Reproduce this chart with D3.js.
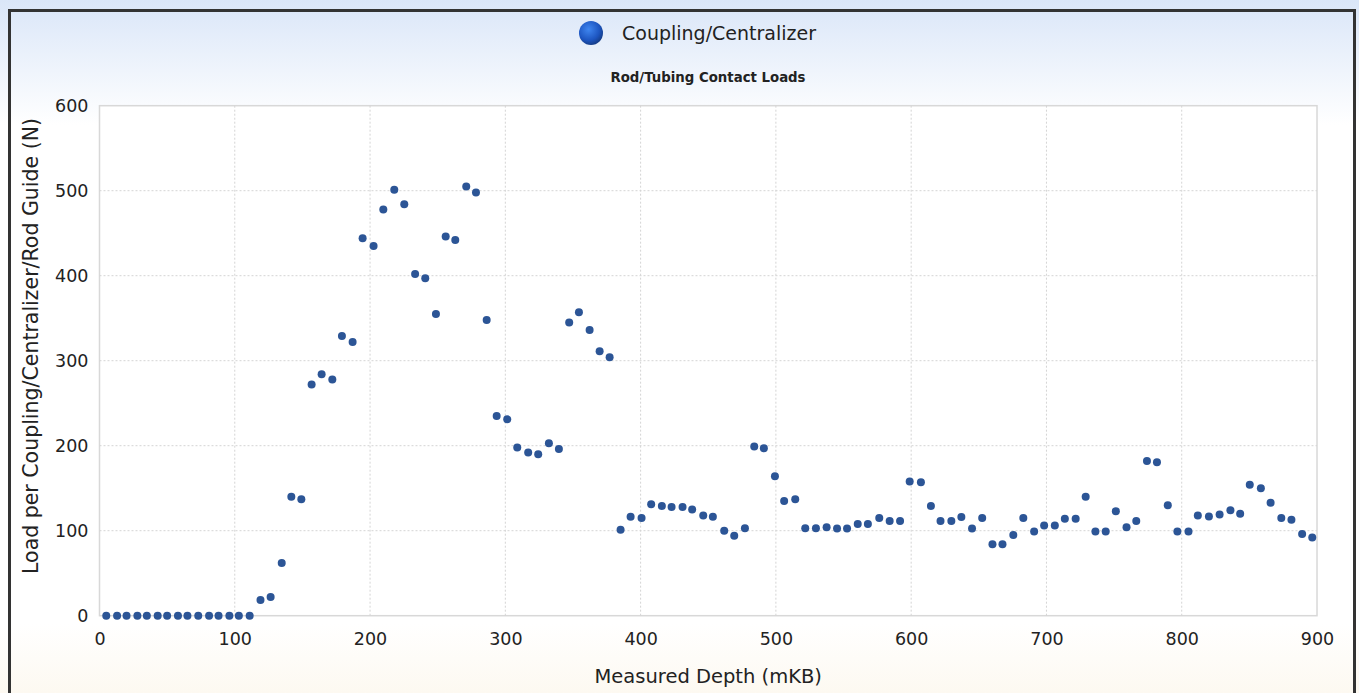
<!DOCTYPE html>
<html>
<head>
<meta charset="utf-8">
<script src="https://cdn.jsdelivr.net/npm/d3@7"></script>
<style>
  body { margin:0; background:#fff; }
  svg { display:block; }
  text { font-family: "DejaVu Sans", Verdana, sans-serif; fill:#222; }
</style>
</head>
<body>
<svg id="Vis" width="1359" height="693"></svg>
<script>

var depth = [5,13,20,28,35,43,50,58,65,73,81,88,96,103,111,
  119,126.5,134.7,141.8,149.2,156.8,164.2,172.1,179.2,187.1,194.5,202.6,209.8,217.9,225.3,
  233.3,240.8,248.7,255.9,263,271.1,278.3,286.2,293.6,301.4,308.8,316.9,324.3,332.2,339.6,
  347.2,354.4,362.3,369.7,377.1,385.2,392.6,400.7,407.8,415.7,422.9,431,438.1,446.3,453.4,
  461.8,469.2,477.1,484,491.1,499.3,506.1,514.3,521.7,529.6,537.5,545.2,552.6,560.5,568,
  576.4,584.1,591.8,598.9,607.2,614.6,621.7,629.7,637.1,645,652.5,660.1,667.5,675.5,682.9,
  690.9,698.3,706.2,713.6,721.6,729,736.2,743.8,751.3,759.2,766.4,774.3,781.7,789.7,796.8,
  805,811.9,820.1,828,836,843.2,850.3,858.5,865.7,873.6,881.1,889,896.5];

var load = [0,0,0,0,0,0,0,0,0,0,0,0,0,0,0,
  18.5,22,62,140,137,272,284,278,329,322,444,435,478,501,484,
  402,397,355,446,442,505,498,348,235,231,198,192,190,203,196,
  345,357,336,311,304,101,116.5,115,131,129,128,128,125,118,116.5,
  100,94,103,199,197,164,135,137,103,103,104,102.5,102.5,108,108,
  115,111.5,111.5,158,157,129,111.5,111.5,116,102.5,115,84,84,95,115,
  99,106,106,114,114,140,99,99,123,104,111.5,182,180.5,130,99,
  99,118,116.6,119,124,120,154,150,133,115,113,96,92];

var xTicks = [0,100,200,300,400,500,600,700,800,900];
var yTicks = [0,100,200,300,400,500,600];

var seriesName = "Coupling/Centralizer";
var chartTitle = "Rod/Tubing Contact Loads";
var xTitle = "Measured Depth (mKB)";
var yTitle = "Load per Coupling/Centralizer/Rod Guide (N)";

var svg = d3.select("#Vis");
var W = 1359, H = 693;
var margin = {left:99.5, right:W-1317, top:105.7, bottom:H-615.7};

var defs = svg.append("defs");
var bg = defs.append("linearGradient").attr("id","bgGrad").attr("x1",0).attr("x2",0).attr("y1",0).attr("y2",1);
bg.append("stop").attr("offset","0%").attr("stop-color","#dae6f8");
bg.append("stop").attr("offset","18%").attr("stop-color","#ffffff");
bg.append("stop").attr("offset","90%").attr("stop-color","#ffffff");
bg.append("stop").attr("offset","100%").attr("stop-color","#fdf9f1");

var mk = defs.append("radialGradient").attr("id","mkGrad").attr("cx","40%").attr("cy","35%").attr("r","65%");
mk.append("stop").attr("offset","0%").attr("stop-color","#3f86f0");
mk.append("stop").attr("offset","70%").attr("stop-color","#1d55c0");
mk.append("stop").attr("offset","100%").attr("stop-color","#163f8c");

svg.append("rect").attr("x",0).attr("y",0).attr("width",W).attr("height",H).attr("fill","url(#bgGrad)");

// outer frame
svg.append("path")
  .attr("d","M9.5,"+H+" V10.5 H1354.5 V"+H)
  .attr("fill","none").attr("stroke","#333").attr("stroke-width",3);

var x = d3.scaleLinear().domain([0,900]).range([margin.left, W-margin.right]);
var y = d3.scaleLinear().domain([0,600]).range([H-margin.bottom, margin.top]);

svg.append("rect")
  .attr("x",x(0)).attr("y",y(600))
  .attr("width",x(900)-x(0)).attr("height",y(0)-y(600))
  .attr("fill","#fff").attr("stroke","#d8d8d8").attr("stroke-width",1.5);

var gGrid = svg.append("g");
gGrid.selectAll(".vg").data(xTicks.slice(1,-1)).enter().append("line")
  .attr("x1",function(d){return x(d);}).attr("x2",function(d){return x(d);})
  .attr("y1",y(600)).attr("y2",y(0))
  .attr("stroke","#d4d4d4").attr("stroke-dasharray","2,2");
gGrid.selectAll(".hg").data(yTicks.slice(1,-1)).enter().append("line")
  .attr("x1",x(0)).attr("x2",x(900))
  .attr("y1",function(d){return y(d);}).attr("y2",function(d){return y(d);})
  .attr("stroke","#d4d4d4").attr("stroke-dasharray","2,2");

var xAxis = svg.append("g").attr("transform","translate(0,"+y(0)+")")
  .call(d3.axisBottom(x).tickValues(xTicks).tickSize(0).tickPadding(17));
var yAxis = svg.append("g").attr("transform","translate("+x(0)+",0)")
  .call(d3.axisLeft(y).tickValues(yTicks).tickSize(0).tickPadding(11));
xAxis.select(".domain").remove();
yAxis.select(".domain").remove();
svg.selectAll(".tick text").attr("font-size",17.5).attr("fill","#222")
  .attr("font-family","'DejaVu Sans', Verdana, sans-serif");

svg.append("text").attr("x",(x(0)+x(900))/2).attr("y",683)
  .attr("text-anchor","middle").attr("font-size",19.5).text(xTitle);

svg.append("text")
  .attr("transform","translate(38,346) rotate(-90)")
  .attr("text-anchor","middle").attr("font-size",20.5).text(yTitle);

svg.append("text").attr("x",708).attr("y",82)
  .attr("text-anchor","middle").attr("font-size",13.3).attr("font-weight","bold").text(chartTitle);

// legend
svg.append("circle").attr("cx",591).attr("cy",33).attr("r",12).attr("fill","url(#mkGrad)");
svg.append("text").attr("x",622).attr("y",40).attr("font-size",19).text(seriesName);

var pts = depth.map(function(d,i){ return {d:d, v:load[i]}; });
svg.append("g").selectAll("circle").data(pts).enter().append("circle")
  .attr("cx",function(p){return x(p.d);})
  .attr("cy",function(p){return y(p.v);})
  .attr("r",4)
  .attr("fill","#2c5596");

</script>
</body>
</html>
